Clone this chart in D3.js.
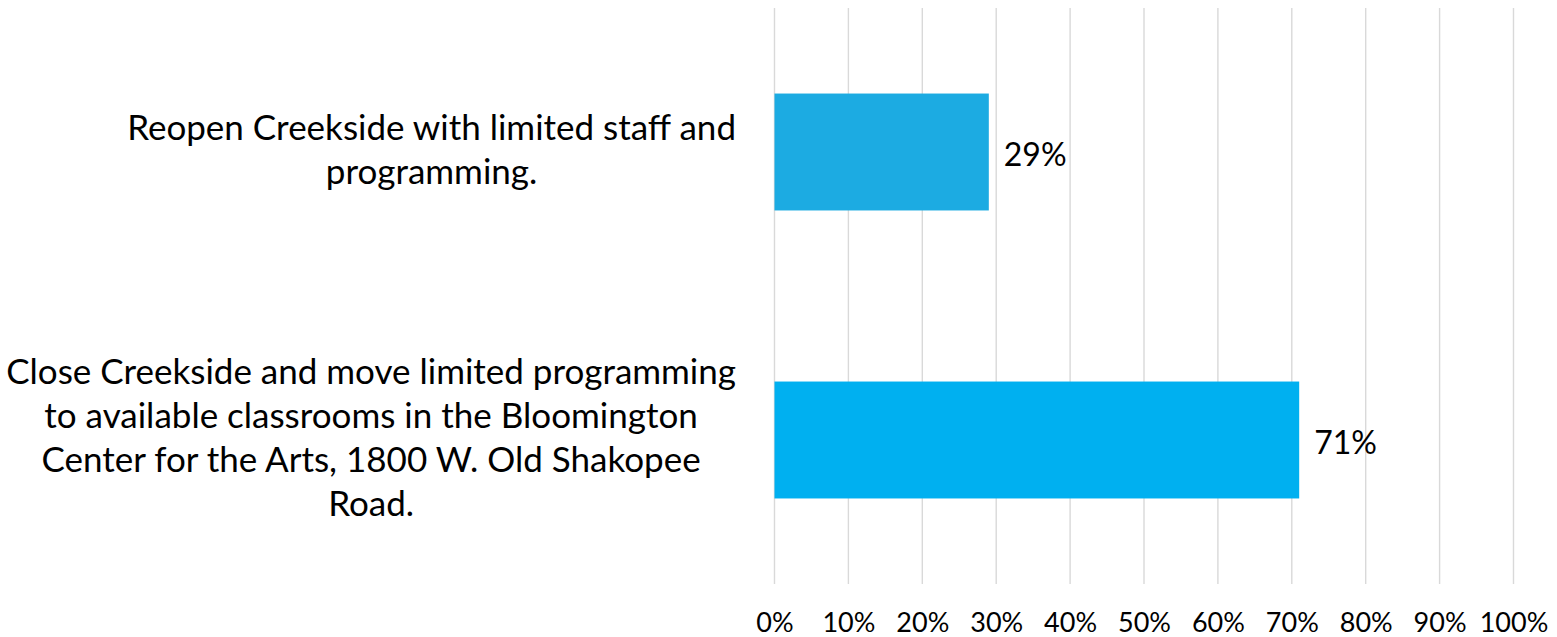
<!DOCTYPE html>
<html>
<head>
<meta charset="utf-8">
<script src="https://cdn.jsdelivr.net/npm/d3@7"></script>
<style>
  html, body { margin: 0; padding: 0; background: #fff; }
  svg { display: block; }
  text { font-family: Lato, "Open Sans", sans-serif; fill: #000; }
</style>
</head>
<body>
<svg id="chart" width="1557" height="637"></svg>
<script>
const categories = [
  ["Reopen Creekside with limited staff and", "programming."],
  ["Close Creekside and move limited programming", "to available classrooms in the Bloomington", "Center for the Arts, 1800 W. Old Shakopee", "Road."]
];
const values = [0.29, 0.71];
const barColors = ["#1CABE2", "#00B0F0"];
const tickValues = [0, 0.1, 0.2, 0.3, 0.4, 0.5, 0.6, 0.7, 0.8, 0.9, 1.0];

const plot = { left: 774.5, right: 1513.5, top: 8, bottom: 584 };
const catFont = 35, valFont = 32, tickFont = 27;
const lineGap = 44;

const svg = d3.select("#chart");

const x = d3.scaleLinear().domain([0, 1]).range([plot.left, plot.right]);
const idx = categories.map((d, i) => i);
const y = d3.scaleBand().domain(idx).range([plot.top, plot.bottom])
  .paddingInner(0.594).paddingOuter(0.297);

// gridlines
svg.append("g").selectAll("line").data(tickValues).join("line")
  .attr("x1", d => x(d)).attr("x2", d => x(d))
  .attr("y1", plot.top).attr("y2", plot.bottom)
  .attr("stroke", "#d9d9d9").attr("stroke-width", 1.4);

// x axis labels
const xAxis = d3.axisBottom(x).tickValues(tickValues).tickFormat(d3.format(".0%")).tickSize(0).tickPadding(0);
const gx = svg.append("g").attr("transform", `translate(0,${632})`).call(xAxis);
gx.select(".domain").remove();
gx.selectAll("text").attr("dy", 0).attr("y", 0)
  .style("font-family", "Lato, sans-serif").style("font-size", tickFont + "px").attr("fill", "#000");

// bars
svg.append("g").selectAll("rect").data(values).join("rect")
  .attr("x", x(0))
  .attr("y", (d, i) => y(i))
  .attr("width", d => x(d) - x(0))
  .attr("height", y.bandwidth())
  .attr("fill", (d, i) => barColors[i]);

// value labels
svg.append("g").selectAll("text").data(values).join("text")
  .attr("x", d => x(d) + 15)
  .attr("y", (d, i) => y(i) + y.bandwidth() / 2 + 14)
  .style("font-size", valFont + "px")
  .text(d => d3.format(".0%")(d));

// category labels
const labelRight = 736;
categories.forEach((lines, i) => {
  const cy = y(i) + y.bandwidth() / 2 + 9.5;
  const g = svg.append("g");
  const texts = g.selectAll("text").data(lines).join("text")
    .attr("text-anchor", "middle")
    .attr("y", (d, j) => cy + (j - (lines.length - 1) / 2) * lineGap)
    .style("font-size", catFont + "px")
    .text(d => d);
  let maxW = 0;
  texts.each(function () { maxW = Math.max(maxW, this.getComputedTextLength()); });
  texts.attr("x", labelRight - maxW / 2);
});
</script>
</body>
</html>
